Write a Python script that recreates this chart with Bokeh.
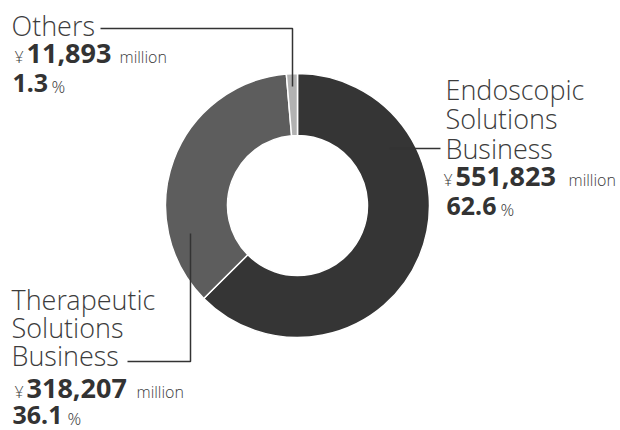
import math
from bokeh.plotting import figure
from bokeh.models import Range1d, ColumnDataSource
from bokeh.core.properties import value
from bokeh.embed import file_html
from bokeh.resources import INLINE

# ---- data ----
categories = ["Endoscopic Solutions Business", "Therapeutic Solutions Business", "Others"]
name_lines = [["Endoscopic", "Solutions", "Business"], ["Therapeutic", "Solutions", "Business"], ["Others"]]
amounts = [551823, 318207, 11893]          # ¥ million
percents = [62.6, 36.1, 1.3]
colors = ["#353535", "#5d5d5d", "#b2b2b2"]

FONT = value("Noto Sans")
LIGHT = value("'Open Sans Light', 'Lato Light', 'Noto Sans'")
W, H = 620, 430
K = 0.38   # baseline correction (fraction of font size)

p = figure(width=W, height=H, output_backend="svg", toolbar_location=None,
           x_range=Range1d(0, W), y_range=Range1d(-H, 0),
           min_border=0, outline_line_color=None)
p.axis.visible = False
p.grid.visible = False
p.background_fill_color = "white"
p.border_fill_color = "white"

# ---- donut ----
total = sum(amounts)
starts, ends = [], []
a = math.pi / 2
for v in amounts:
    starts.append(a)
    a -= 2 * math.pi * v / total
    ends.append(a)
src = ColumnDataSource(dict(cat=categories, start=starts, end=ends, color=colors))
CX, CY, R_IN, R_OUT = 297, -205, 70, 132
p.annular_wedge(x=CX, y=CY, inner_radius=R_IN, outer_radius=R_OUT,
                start_angle="start", end_angle="end", direction="clock",
                fill_color="color", line_color="white", line_width=1.5, source=src)

# ---- leader lines ----
LC = "#333333"
p.line(x=[100, 292, 292], y=[-28, -28, -86], line_color=LC, line_width=1.5)
p.line(x=[389, 440], y=[-148, -148], line_color=LC, line_width=1.5)
p.line(x=[127, 190, 190], y=[-361, -361, -233], line_color=LC, line_width=1.5)

# ---- labels ----
def txt(x, y, s, size, bold=False, color="#333333", font=FONT):
    p.text(x=[x], y=[-(y - K * size)], text=[s], text_font=font, text_font_size=f"{size}px",
           text_font_style="bold" if bold else "normal", text_color=color,
           text_align="left", text_baseline="alphabetic")

LBL = "#3c3c3c"
# per category: (x, first baseline, line step, amount baseline, pct baseline, num x, million x, pct-sign x)
layout = [
    (445, 99, 29.5, 186, 215, 455, 568, 500),
    (11, 309, 28, 398, 424, 26, 136, 67),
    (11, 35, 29, 63, 92, 26, 119, 51),
]
for i in range(len(categories)):
    x, b0, step, ba, bp, nx, mx, px = layout[i]
    for j, line in enumerate(name_lines[i]):
        txt(x, b0 + j * step, line, 27, color=LBL, font=LIGHT)
    txt(nx - 12, ba, "¥", 16, color=LBL, font=LIGHT)
    txt(nx, ba, f"{amounts[i]:,}", 27, bold=True)
    txt(mx, ba, "million", 16, color=LBL, font=LIGHT)
    txt(x + 1, bp, f"{percents[i]}", 25, bold=True)
    txt(px, bp, "%", 17, color=LBL, font=LIGHT)

open("out.html", "w").write(file_html(p, INLINE))
